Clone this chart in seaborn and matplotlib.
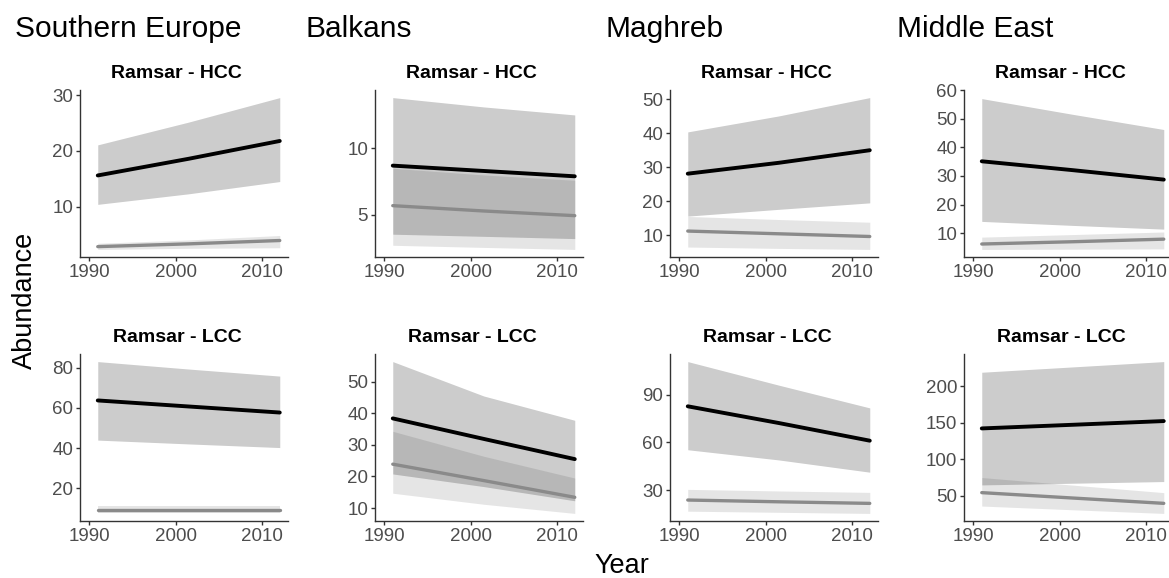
import matplotlib
matplotlib.use("Agg")
import matplotlib.pyplot as plt
import seaborn as sns

# Data

years = [1991, 2001.5, 2012]
regions = ["Southern Europe", "Balkans", "Maghreb", "Middle East"]
row_titles = ["Ramsar - HCC", "Ramsar - LCC"]

# Southern Europe - HCC
seu_hcc_black = [15.6, 18.6, 21.8]
seu_hcc_black_lo = [10.4, 12.3, 14.5]
seu_hcc_black_hi = [21.1, 25.2, 29.6]
seu_hcc_grey = [2.8, 3.3, 3.9]
seu_hcc_grey_lo = [2.3, 2.5, 2.6]
seu_hcc_grey_hi = [3.4, 4.0, 4.8]

# Balkans - HCC
bal_hcc_black = [8.7, 8.3, 7.9]
bal_hcc_black_lo = [3.56, 3.4, 3.23]
bal_hcc_black_hi = [13.8, 13.1, 12.5]
bal_hcc_grey = [5.7, 5.3, 4.95]
bal_hcc_grey_lo = [2.73, 2.57, 2.42]
bal_hcc_grey_hi = [8.5, 8.0, 7.6]

# Maghreb - HCC
mag_hcc_black = [28.1, 31.3, 35.0]
mag_hcc_black_lo = [15.6, 17.6, 19.5]
mag_hcc_black_hi = [40.4, 45.1, 50.5]
mag_hcc_grey = [11.2, 10.4, 9.6]
mag_hcc_grey_lo = [6.5, 6.1, 5.8]
mag_hcc_grey_hi = [15.5, 14.6, 13.8]

# Middle East - HCC
mde_hcc_black = [35.1, 32.0, 28.7]
mde_hcc_black_lo = [14.1, 12.7, 11.4]
mde_hcc_black_hi = [57.0, 51.5, 46.2]
mde_hcc_grey = [6.2, 7.0, 7.9]
mde_hcc_grey_lo = [4.3, 4.4, 4.5]
mde_hcc_grey_hi = [8.6, 9.5, 10.4]

# Southern Europe - LCC
seu_lcc_black = [63.7, 60.7, 57.7]
seu_lcc_black_lo = [44.0, 42.1, 40.3]
seu_lcc_black_hi = [83.0, 79.3, 75.8]
seu_lcc_grey = [9.3, 9.3, 9.3]
seu_lcc_grey_lo = [7.6, 7.6, 7.6]
seu_lcc_grey_hi = [11.1, 11.1, 11.1]

# Balkans - LCC
bal_lcc_black = [38.4, 31.9, 25.5]
bal_lcc_black_lo = [20.8, 16.8, 12.3]
bal_lcc_black_hi = [56.4, 45.5, 37.8]
bal_lcc_grey = [23.9, 18.7, 13.4]
bal_lcc_grey_lo = [14.7, 11.2, 8.3]
bal_lcc_grey_hi = [34.3, 26.4, 19.5]

# Maghreb - LCC
mag_lcc_black = [82.6, 72.1, 61.0]
mag_lcc_black_lo = [55.3, 48.9, 41.2]
mag_lcc_black_hi = [110.7, 95.9, 81.6]
mag_lcc_grey = [23.7, 22.6, 21.6]
mag_lcc_grey_lo = [16.7, 16.0, 15.3]
mag_lcc_grey_hi = [30.4, 29.4, 28.5]

# Middle East - LCC
mde_lcc_black = [142.3, 147.3, 152.4]
mde_lcc_black_lo = [64.8, 67.1, 69.4]
mde_lcc_black_hi = [219.4, 226.7, 234.0]
mde_lcc_grey = [54.2, 46.8, 39.5]
mde_lcc_grey_lo = [35.8, 30.7, 25.7]
mde_lcc_grey_hi = [74.9, 64.5, 54.2]

# y tick labels per panel
hcc_yticks = [[10, 20, 30], [5, 10], [10, 20, 30, 40, 50], [10, 20, 30, 40, 50, 60]]
lcc_yticks = [[20, 40, 60, 80], [10, 20, 30, 40, 50], [30, 60, 90], [50, 100, 150, 200]]
xticks = [1990, 2000, 2010]

panels = [
    [
        (seu_hcc_black, seu_hcc_black_lo, seu_hcc_black_hi, seu_hcc_grey, seu_hcc_grey_lo, seu_hcc_grey_hi),
        (bal_hcc_black, bal_hcc_black_lo, bal_hcc_black_hi, bal_hcc_grey, bal_hcc_grey_lo, bal_hcc_grey_hi),
        (mag_hcc_black, mag_hcc_black_lo, mag_hcc_black_hi, mag_hcc_grey, mag_hcc_grey_lo, mag_hcc_grey_hi),
        (mde_hcc_black, mde_hcc_black_lo, mde_hcc_black_hi, mde_hcc_grey, mde_hcc_grey_lo, mde_hcc_grey_hi),
    ],
    [
        (seu_lcc_black, seu_lcc_black_lo, seu_lcc_black_hi, seu_lcc_grey, seu_lcc_grey_lo, seu_lcc_grey_hi),
        (bal_lcc_black, bal_lcc_black_lo, bal_lcc_black_hi, bal_lcc_grey, bal_lcc_grey_lo, bal_lcc_grey_hi),
        (mag_lcc_black, mag_lcc_black_lo, mag_lcc_black_hi, mag_lcc_grey, mag_lcc_grey_lo, mag_lcc_grey_hi),
        (mde_lcc_black, mde_lcc_black_lo, mde_lcc_black_hi, mde_lcc_grey, mde_lcc_grey_lo, mde_lcc_grey_hi),
    ],
]
yticks = [hcc_yticks, lcc_yticks]

# Plot

sns.set_theme(style="ticks")
plt.rcParams["font.family"] = ["Liberation Sans", "DejaVu Sans"]

W, H = 1169, 578
fig = plt.figure(figsize=(W / 100, H / 100), dpi=100)

lefts = [80, 375, 670, 964]   # pixel positions of the y axis lines
tops = [90, 354]
panel_w, panel_h = 208, 167

for r in range(2):
    for c in range(4):
        black, black_lo, black_hi, grey, grey_lo, grey_hi = panels[r][c]
        ax = fig.add_axes([lefts[c] / W, 1 - (tops[r] + panel_h) / H, panel_w / W, panel_h / H])

        ax.fill_between(years, grey_lo, grey_hi, color="#7f7f7f", alpha=0.2, lw=0)
        ax.fill_between(years, black_lo, black_hi, color="black", alpha=0.2, lw=0)
        sns.lineplot(x=years, y=grey, color="#8a8a8a", lw=2.4, ax=ax, legend=False)
        sns.lineplot(x=years, y=black, color="black", lw=2.8, ax=ax, legend=False)

        # ggplot-like 5% expansion
        lo = min(min(black_lo), min(grey_lo))
        hi = max(max(black_hi), max(grey_hi))
        pad = (hi - lo) * 0.05
        ax.set_ylim(lo - pad, hi + pad)
        ax.set_xlim(1988.95, 2012.95)
        ax.set_xticks(xticks)
        ax.set_yticks(yticks[r][c])
        ax.set_xlabel("")
        ax.set_ylabel("")

        sns.despine(ax=ax)
        for s in ["left", "bottom"]:
            ax.spines[s].set_color("#333333")
            ax.spines[s].set_linewidth(1.0)
        ax.tick_params(length=3, width=1, color="#333333", labelsize=13.5,
                       labelcolor="#4d4d4d", pad=2)
        ax.set_title(row_titles[r], fontsize=14, fontweight="bold", color="black",
                     x=0.466, pad=8.5)

# region headers
for x, name in zip([15, 305, 605, 897], regions):
    fig.text(x / W, 1 - 37 / H, name, fontsize=21.5, color="black", ha="left", va="baseline")

fig.text(25 / W, 1 - 300 / H, "Abundance", fontsize=19.5, color="black",
         rotation=90, ha="center", va="center")
fig.text(622 / W, 1 - 566 / H, "Year", fontsize=19.5, color="black", ha="center", va="center")

fig.savefig("out.png", dpi=100)
